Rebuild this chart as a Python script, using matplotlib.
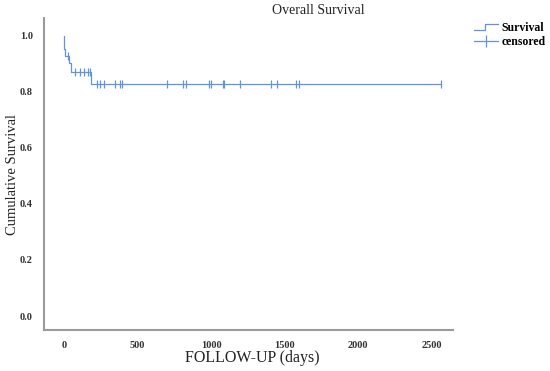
import matplotlib.pyplot as plt
from matplotlib.lines import Line2D
from matplotlib.legend_handler import HandlerBase

# Kaplan-Meier steps (days, survival after step)
step_days = [0, 3, 8, 36, 48, 182]
step_surv = [1.0, 0.955, 0.927, 0.905, 0.870, 0.830]

# censored observations (days)
censor_days = [25, 75, 109, 138, 165, 177,
               227, 245, 272, 347, 381, 392, 699, 812, 828,
               988, 1000, 1080, 1088, 1197, 1408, 1447, 1578, 1601, 2563]
last_day = 2563

blue = '#6393d8'
serif = 'Liberation Serif'


class StepHandler(HandlerBase):
    # little step glyph like SPSS legend
    def create_artists(self, legend, orig, xd, yd, w, h, fontsize, trans):
        xs = [-xd, -xd + w * 0.45, -xd + w * 0.45, -xd + w]
        ys = [-yd + h * 0.2, -yd + h * 0.2, -yd + h * 0.9, -yd + h * 0.9]
        ln = Line2D(xs, ys, color=blue, lw=0.9, transform=trans)
        return [ln]


fig = plt.figure(figsize=(5.5, 3.71), dpi=100)
ax = fig.add_axes([0.08, 0.1105, 0.7436, 0.841])

# step curve
xs = step_days + [last_day]
ys = step_surv + [step_surv[-1]]
ax.step(xs, ys, where='post', color=blue, lw=0.9)

# survival at each censor time
def surv_at(t):
    s = step_surv[0]
    for d, v in zip(step_days, step_surv):
        if d <= t:
            s = v
    return s

ax.plot(censor_days, [surv_at(t) for t in censor_days], ls='none',
        marker='|', ms=5.5, mew=0.9, color=blue)

ax.set_xlim(-136, 2646)
ax.set_ylim(-0.05, 1.064)
ax.set_xticks([0, 500, 1000, 1500, 2000, 2500])
ax.set_yticks([0.0, 0.2, 0.4, 0.6, 0.8, 1.0])
ax.set_yticklabels(['0.0', '0.2', '0.4', '0.6', '0.8', '1.0'])
ax.tick_params(length=0, pad=8, labelsize=7.5, colors='#333333')
for lab in ax.get_xticklabels() + ax.get_yticklabels():
    lab.set_fontfamily(serif)
    lab.set_fontweight('bold')

for s in ['top', 'right']:
    ax.spines[s].set_visible(False)
for s in ['left', 'bottom']:
    ax.spines[s].set_color('#9a9a9a')
    ax.spines[s].set_linewidth(1.5)

fig.text(0.578, 0.972, 'Overall Survival', ha='center', va='center',
         family=serif, fontsize=10, color='#222222')
fig.text(0.458, 0.035, 'FOLLOW-UP (days)', ha='center', va='center',
         family=serif, fontsize=11.5, color='#222222')
fig.text(0.022, 0.53, 'Cumulative Survival', ha='center', va='center',
         rotation=90, family=serif, fontsize=10.5, color='#222222')

surv_handle = Line2D([], [], color=blue, lw=0.9)
cens_handle = Line2D([], [], color=blue, lw=0.9, marker='|', ms=9, mew=0.9)
leg = fig.legend([surv_handle, cens_handle], ['Survival', 'censored'],
                 loc='upper left', bbox_to_anchor=(0.862, 0.94),
                 frameon=False, borderpad=0, borderaxespad=0,
                 prop={'family': serif, 'size': 8.5, 'weight': 'bold'},
                 handlelength=2.0, handletextpad=0.3, labelspacing=0.15,
                 handler_map={surv_handle: StepHandler()})

fig.savefig('out.png', dpi=100)
